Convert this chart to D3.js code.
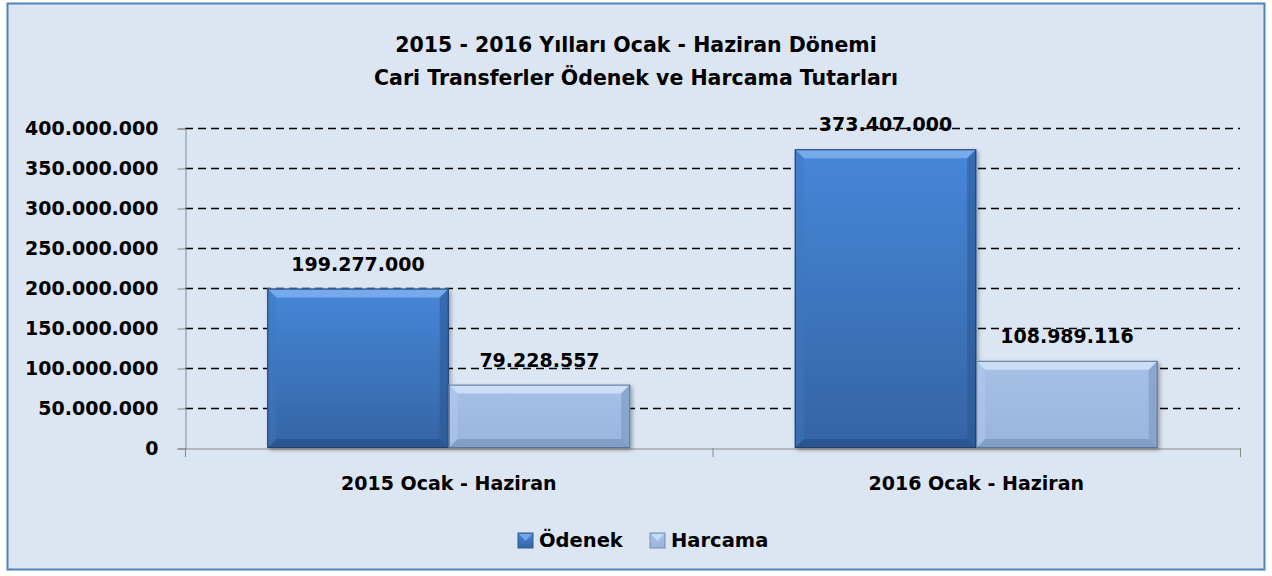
<!DOCTYPE html>
<html><head><meta charset="utf-8">
<script src="https://cdn.jsdelivr.net/npm/d3@7"></script>
<style>body{margin:0;background:#fff}svg{display:block}text{font-family:"DejaVu Sans",sans-serif;font-weight:bold;fill:#000}</style>
</head><body>
<script>
const categories = ["2015 Ocak - Haziran", "2016 Ocak - Haziran"];
const seriesNames = ["Ödenek", "Harcama"];
const odenek = [199277000, 373407000];
const harcama = [79228557, 108989116];
const yTicks = [0, 50000000, 100000000, 150000000, 200000000, 250000000, 300000000, 350000000, 400000000];
const titleLines = ["2015 - 2016 Yılları Ocak - Haziran Dönemi", "Cari Transferler Ödenek ve Harcama Tutarları"];

const W = 1272, H = 576;
const svg = d3.select("body").append("svg").attr("width", W).attr("height", H);
const defs = svg.append("defs");
function grad(id, c1, c2){
  const g = defs.append("linearGradient").attr("id", id).attr("x1",0).attr("y1",0).attr("x2",0).attr("y2",1);
  g.append("stop").attr("offset","0%").attr("stop-color",c1);
  g.append("stop").attr("offset","100%").attr("stop-color",c2);
}
grad("g0", "#4687d8", "#3564a4");
grad("g1", "#a6c0e6", "#9ab5dc");
const f = defs.append("filter").attr("id","sh").attr("x","-10%").attr("y","-10%").attr("width","130%").attr("height","130%");
f.append("feDropShadow").attr("dx",2).attr("dy",2).attr("stdDeviation",2).attr("flood-color","#000").attr("flood-opacity",0.35);

svg.append("rect").attr("x",7.5).attr("y",3.5).attr("width",1257).attr("height",566)
  .attr("fill","#dce6f2").attr("stroke","#4f81bd").attr("stroke-width",2);

const x0 = 185, x1 = 1240, yTop = 128, yBot = 448;
const y = d3.scaleLinear().domain([0, 400000000]).range([yBot, yTop]);
const xc = d3.scaleBand().domain(categories).range([x0, x1]).paddingInner(0).paddingOuter(0);
const xs = d3.scaleBand().domain(seriesNames).range([0, xc.bandwidth()]).paddingInner(0).paddingOuter(0.4535);

const fmt = v => d3.format(",")(v).replace(/,/g, ".");

// title
svg.selectAll(".title").data(titleLines).join("text")
  .attr("x", 636).attr("y", (d,i)=> 52 + i*33).attr("text-anchor","middle")
  .style("font-size","20.5px").text(d=>d);

// gridlines
svg.append("g").selectAll("line").data(yTicks.filter(d=>d>0)).join("line")
  .attr("x1", x0).attr("x2", x1).attr("y1", d=>Math.round(y(d))+0.5).attr("y2", d=>Math.round(y(d))+0.5)
  .attr("stroke","#000").attr("stroke-width",1.3).attr("stroke-dasharray","8,5");

// y axis
const ya = svg.append("g").attr("transform",`translate(${x0+0.5},0.5)`)
  .call(d3.axisLeft(y).tickValues(yTicks).tickFormat(fmt).tickSizeOuter(0).tickSize(8).tickPadding(19));
ya.select(".domain").attr("stroke","#888");
ya.selectAll(".tick line").attr("stroke","#888");
ya.selectAll("text").style("font-size","19px").attr("font-family",null).attr("fill","#000");

// x axis
const xa = svg.append("g").attr("transform",`translate(0,${yBot+0.5})`)
  .call(d3.axisBottom(xc).tickSize(0).tickPadding(28));
xa.select(".domain").attr("stroke","#888");
xa.selectAll("text").style("font-size","19px").attr("fill","#000").attr("font-family",null);
svg.append("g").selectAll("line").data([x0, x0 + xc.bandwidth(), x1]).join("line")
  .attr("x1",d=>d+0.5).attr("x2",d=>d+0.5).attr("y1",yBot).attr("y2",yBot+9).attr("stroke","#888");

// bars with bevel
const data = [];
categories.forEach((c,i)=>{
  data.push({c, s:0, v:odenek[i]});
  data.push({c, s:1, v:harcama[i]});
});
const bevel = 9;
const cols = [
  {top:"#7fb0ee", side:"#2f5b98", bot:"#244d85", right:"#2a5590", left:"#3e77c2"},
  {top:"#d2e3f8", side:"#7f9cc6", bot:"#6f8db8", right:"#7894bd", left:"#b7cdec"}
];
const bars = svg.append("g").selectAll("g").data(data).join("g");
bars.each(function(d){
  const g = d3.select(this);
  const bx = xc(d.c) + xs(seriesNames[d.s]);
  const bw = xs.bandwidth();
  const by = y(d.v), bh = yBot - by;
  const c = cols[d.s];
  g.append("rect").attr("x",bx).attr("y",by).attr("width",bw).attr("height",bh)
    .attr("fill",`url(#g${d.s})`).attr("filter","url(#sh)");
  const b = Math.min(bevel, bh/2);
  const pts = (a)=>a.map(p=>p.join(",")).join(" ");
  g.append("polygon").attr("points",pts([[bx,by],[bx+bw,by],[bx+bw-b,by+b],[bx+b,by+b]])).attr("fill",c.top).attr("opacity",0.85);
  g.append("polygon").attr("points",pts([[bx,by],[bx+b,by+b],[bx+b,yBot-b],[bx,yBot]])).attr("fill",c.left).attr("opacity",0.45);
  g.append("polygon").attr("points",pts([[bx+bw,by],[bx+bw-b,by+b],[bx+bw-b,yBot-b],[bx+bw,yBot]])).attr("fill",c.right).attr("opacity",0.55);
  g.append("polygon").attr("points",pts([[bx,yBot],[bx+b,yBot-b],[bx+bw-b,yBot-b],[bx+bw,yBot]])).attr("fill",c.bot).attr("opacity",0.6);
  g.append("rect").attr("x",bx+0.5).attr("y",by+0.5).attr("width",bw-1).attr("height",bh-1)
    .attr("fill","none").attr("stroke", d.s===0?"#1f3f6e":"#5a7399").attr("stroke-width",1);
  g.append("text").attr("x",bx+bw/2).attr("y",by-18).attr("text-anchor","middle")
    .style("font-size","19px").text(fmt(d.v));
});

// legend
const legX = [518, 650];
const leg = svg.append("g").selectAll("g").data(seriesNames).join("g")
  .attr("transform",(d,i)=>`translate(${legX[i]},533)`);
leg.append("rect").attr("x",0).attr("y",0).attr("width",15).attr("height",15)
  .attr("fill",(d,i)=>`url(#g${i})`).attr("stroke",(d,i)=>i===0?"#2f5b98":"#6f8db8");
leg.append("polygon").attr("points","1,1 14,1 7.5,8").attr("fill",(d,i)=>i===0?"#7fb0ee":"#d2e3f8").attr("opacity",0.8);
leg.append("text").attr("x",21).attr("y",14).style("font-size","19.5px").text(d=>d);
</script>
</body></html>
